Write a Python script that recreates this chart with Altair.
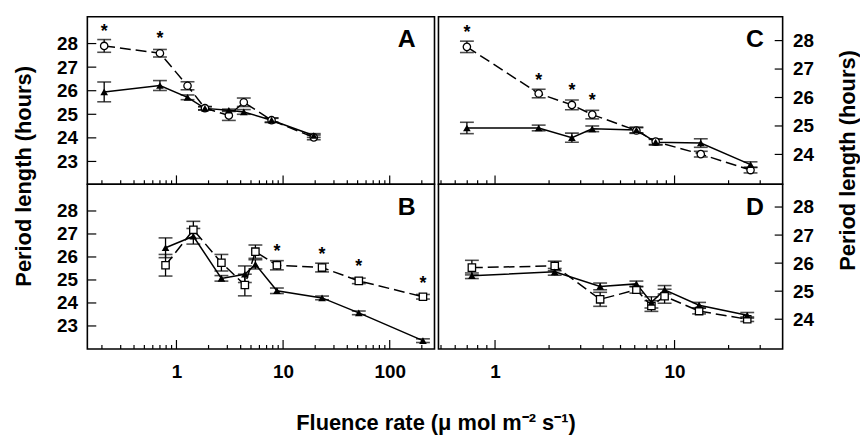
import altair as alt
import pandas as pd

# ---------------- data ----------------
# Panel A (open circles dashed, filled triangles solid)
a_x = [0.21, 0.70, 1.27, 1.85, 3.1, 4.28, 7.8, 19.4]
a_open = [27.90, 27.59, 26.21, 25.26, 24.95, 25.51, 24.75, 24.02]
a_open_err = [0.27, 0.16, 0.17, 0.07, 0.21, 0.18, 0.10, 0.10]
a_tri = [25.95, 26.22, 25.72, 25.25, 25.17, 25.10, 24.75, 24.10]
a_tri_err = [0.42, 0.21, 0.10, 0.07, 0.05, 0.10, 0.08, 0.08]
a_star_x = [0.21, 0.70]
a_star_y = [28.67, 28.38]

# Panel B (open squares dashed, filled triangles solid)
b_x = [0.79, 1.44, 2.64, 4.38, 5.5, 8.75, 23.2, 51.3, 205]
b_open = [25.64, 27.18, 25.75, 24.78, 26.23, 25.64, 25.54, 24.96, 24.27]
b_open_err = [0.47, 0.37, 0.36, 0.47, 0.29, 0.20, 0.19, 0.12, 0.10]
b_tri = [26.40, 26.90, 25.07, 25.25, 25.68, 24.53, 24.22, 23.57, 22.36]
b_tri_err = [0.43, 0.34, 0.12, 0.36, 0.20, 0.12, 0.08, 0.08, 0.08]
b_star_x = [8.75, 23.2, 51.3, 205]
b_star_y = [26.40, 26.26, 25.75, 25.00]

# Panel C (open circles dashed, filled triangles solid)
c_x = [0.697, 1.75, 2.68, 3.48, 6.13, 7.85, 14.0, 26.5]
c_open = [27.78, 26.14, 25.74, 25.40, 24.84, 24.45, 24.01, 23.45]
c_open_err = [0.20, 0.15, 0.17, 0.15, 0.10, 0.10, 0.10, 0.10]
c_tri = [24.93, 24.93, 24.59, 24.90, 24.86, 24.43, 24.40, 23.64]
c_tri_err = [0.20, 0.10, 0.16, 0.10, 0.10, 0.10, 0.15, 0.10]
c_star_x = [0.697, 1.75, 2.68, 3.48]
c_star_y = [28.41, 26.73, 26.37, 26.03]

# Panel D (open squares dashed, filled triangles solid)
d_x = [0.743, 2.15, 3.85, 6.13, 7.43, 8.8, 13.7, 25.4]
d_open = [25.84, 25.90, 24.71, 25.05, 24.47, 24.82, 24.29, 24.00]
d_open_err = [0.26, 0.17, 0.25, 0.12, 0.19, 0.25, 0.10, 0.08]
d_tri = [25.55, 25.69, 25.17, 25.26, 24.60, 25.05, 24.50, 24.14]
d_tri_err = [0.10, 0.12, 0.12, 0.10, 0.20, 0.15, 0.10, 0.10]
d_star_x = []
d_star_y = []

# axis ticks / labels
left_major = [1, 10, 100]
left_minor = [0.2, 0.3, 0.4, 0.5, 0.6, 0.7, 0.8, 0.9, 2, 3, 4, 5, 6, 7, 8, 9,
              20, 30, 40, 50, 60, 70, 80, 90, 200]
right_major = [1, 10]
right_minor = [0.5, 0.6, 0.7, 0.8, 0.9, 2, 3, 4, 5, 6, 7, 8, 9, 20, 30]
left_yticks = [23, 24, 25, 26, 27, 28]
right_yticks = [24, 25, 26, 27, 28]

FONT = "Liberation Sans"
LW, RW = 350, 347
TH, BH = 169, 166


def panel(xs, oy, oe, ty, te, oshape, sx, sy, xdom, ydom, w, h, letter,
          side, xmajor, xminor, yticks, show_xlabels, extra=None):
    xscale = alt.Scale(type="log", domain=xdom)
    yscale = alt.Scale(domain=ydom)
    if show_xlabels:
        xaxis = alt.Axis(values=xmajor, format="d", ticks=False, domain=False,
                         grid=False, title=None, labelPadding=14)
    else:
        xaxis = None
    yaxis = alt.Axis(values=yticks, format="d", ticks=False, domain=False,
                     grid=False, title=None, orient=side, labelPadding=10)

    X = lambda f: alt.X(f, type="quantitative", scale=xscale, axis=xaxis)
    Y = lambda f: alt.Y(f, type="quantitative", scale=yscale, axis=yaxis)

    d_open = pd.DataFrame({"x": xs, "y": oy, "lo": [a - b for a, b in zip(oy, oe)],
                           "hi": [a + b for a, b in zip(oy, oe)]})
    d_tri = pd.DataFrame({"x": xs, "y": ty, "lo": [a - b for a, b in zip(ty, te)],
                          "hi": [a + b for a, b in zip(ty, te)]})
    d_err = pd.concat([d_open, d_tri])

    layers = []
    layers.append(alt.Chart(d_err).mark_rule(color="black", strokeWidth=1.3)
                  .encode(x=X("x"), y=Y("lo"), y2="hi"))
    for f in ["lo", "hi"]:
        layers.append(alt.Chart(d_err).mark_tick(orient="horizontal", size=14,
                                                 thickness=1.6, color="black")
                      .encode(x=X("x"), y=Y(f)))
    layers.append(alt.Chart(d_open).mark_line(color="black", strokeWidth=1.5,
                                              strokeDash=[11, 5])
                  .encode(x=X("x"), y=Y("y")))
    layers.append(alt.Chart(d_tri).mark_line(color="black", strokeWidth=1.5)
                  .encode(x=X("x"), y=Y("y")))
    layers.append(alt.Chart(d_open).mark_point(shape=oshape, filled=True, fill="white",
                                               stroke="black", strokeWidth=1.3,
                                               size=55, opacity=1)
                  .encode(x=X("x"), y=Y("y")))
    layers.append(alt.Chart(d_tri).mark_point(shape="triangle-up", filled=True,
                                              color="black", size=60, opacity=1)
                  .encode(x=X("x"), y=Y("y")))
    if sx:
        layers.append(alt.Chart(pd.DataFrame({"x": sx, "y": sy}))
                      .mark_text(text="*", font=FONT, fontSize=18, fontWeight="bold",
                                 color="black", baseline="middle", dy=4)
                      .encode(x=X("x"), y=Y("y")))
    # inner tick marks on bottom
    tdf = pd.DataFrame({"t": xmajor + xminor,
                        "len": [9] * len(xmajor) + [4] * len(xminor)})
    for L in [9, 4]:
        layers.append(alt.Chart(tdf[tdf["len"] == L]).mark_rule(color="black", strokeWidth=1.2)
                      .encode(x=X("t"), y=alt.value(h), y2=alt.value(h - L)))
    # inner y ticks
    ydf = pd.DataFrame({"v": yticks})
    if side == "left":
        layers.append(alt.Chart(ydf).mark_rule(color="black", strokeWidth=1.2)
                      .encode(y=Y("v"), x=alt.value(0), x2=alt.value(9)))
    else:
        layers.append(alt.Chart(ydf).mark_rule(color="black", strokeWidth=1.2)
                      .encode(y=Y("v"), x=alt.value(w), x2=alt.value(w - 8)))
    # panel letter
    layers.append(alt.Chart(pd.DataFrame({"l": [letter]}))
                  .mark_text(font=FONT, fontSize=25, fontWeight="bold", color="black",
                             baseline="middle", align="center")
                  .encode(text="l:N", x=alt.value(w - 28), y=alt.value(23)))
    if extra:
        layers.extend(extra)
    return alt.layer(*layers).properties(width=w, height=h)


ytitle = "Period length (hours)"
xtitle = "Fluence rate (\u03bc mol m\u207b\u00b2 s\u207b\u00b9)"
txt = dict(font=FONT, fontSize=22, fontWeight="bold", color="black")

left_title = (alt.Chart(pd.DataFrame({"l": [ytitle]}))
              .mark_text(angle=270, baseline="middle", align="center", **txt)
              .encode(text="l:N", x=alt.value(-64), y=alt.value(TH - 8)))
right_title = (alt.Chart(pd.DataFrame({"l": [ytitle]}))
               .mark_text(angle=270, baseline="middle", align="center", **txt)
               .encode(text="l:N", x=alt.value(RW + 66), y=alt.value(TH - 24)))

A = panel(a_x, a_open, a_open_err, a_tri, a_tri_err, "circle", a_star_x, a_star_y,
          [0.146, 263], [22.03, 29.14], LW, TH, "A", "left", left_major, left_minor,
          left_yticks, False, [left_title])
B = panel(b_x, b_open, b_open_err, b_tri, b_tri_err, "square", b_star_x, b_star_y,
          [0.146, 263], [22.0, 29.16], LW, BH, "B", "left", left_major, left_minor,
          left_yticks, True)
C = panel(c_x, c_open, c_open_err, c_tri, c_tri_err, "circle", c_star_x, c_star_y,
          [0.484, 40], [22.95, 28.84], RW, TH, "C", "right", right_major, right_minor,
          right_yticks, False, [right_title])
D = panel(d_x, d_open, d_open_err, d_tri, d_tri_err, "square", d_star_x, d_star_y,
          [0.484, 40], [22.94, 28.81], RW, BH, "D", "right", right_major, right_minor,
          right_yticks, True)

left = alt.vconcat(A, B, spacing=0, bounds="flush").resolve_scale(x="independent", y="independent")
right = alt.vconcat(C, D, spacing=0, bounds="flush").resolve_scale(x="independent", y="independent")

chart = (alt.hconcat(left, right, spacing=2)
         .resolve_scale(x="independent", y="independent")
         .properties(padding={"left": 4, "top": 6, "right": 0, "bottom": 0},
                     background="white",
                     title=alt.TitleParams(xtitle, orient="bottom", anchor="middle",
                                           font=FONT, fontSize=22, fontWeight="bold",
                                           color="black", offset=31))
         .configure_view(stroke="black", strokeWidth=1.6)
         .configure_axis(labelFont=FONT, labelFontSize=19, labelFontWeight="bold",
                         labelColor="black"))

chart.save("out.html", embed_options={"renderer": "svg", "actions": False})
